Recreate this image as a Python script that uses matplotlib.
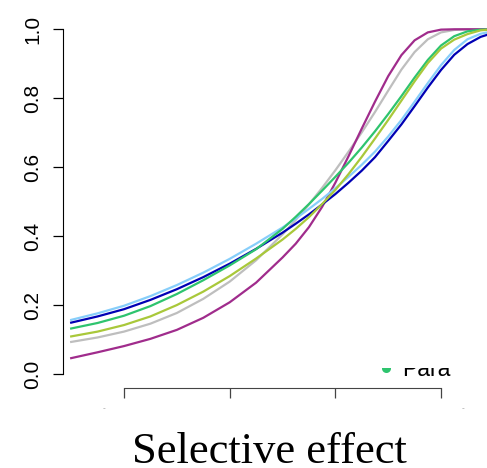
import matplotlib
matplotlib.use("Agg")
import matplotlib.pyplot as plt
from matplotlib.patches import Rectangle

plt.rcParams['font.family'] = 'Liberation Sans'

# selective effect grid (coarser on the flat left part)
effect = [0.5, 0.75, 1.0, 1.25, 1.5, 1.75, 2.0, 2.25, 2.5, 2.625, 2.75, 2.875,
          3.0, 3.125, 3.25, 3.375, 3.5, 3.625, 3.75, 3.875, 4.0, 4.125, 4.25,
          4.375, 4.5]

gray_curve = [0.093, 0.106, 0.123, 0.146, 0.177, 0.218, 0.268, 0.330, 0.405, 0.447,
              0.492, 0.540, 0.591, 0.645, 0.701, 0.760, 0.822, 0.883, 0.934, 0.971,
              0.991, 0.998, 1.0, 1.0, 1.0]
purple_curve = [0.046, 0.063, 0.081, 0.102, 0.128, 0.163, 0.208, 0.265, 0.338, 0.378,
                0.426, 0.485, 0.555, 0.632, 0.712, 0.790, 0.864, 0.925, 0.968, 0.991,
                0.999, 1.0, 1.0, 1.0, 1.0]
skyblue_curve = [0.157, 0.176, 0.198, 0.226, 0.258, 0.294, 0.334, 0.378, 0.425, 0.451,
                 0.479, 0.508, 0.539, 0.572, 0.607, 0.645, 0.689, 0.737, 0.790, 0.844,
                 0.896, 0.940, 0.971, 0.987, 0.995]
navy_curve = [0.149, 0.167, 0.188, 0.215, 0.246, 0.281, 0.320, 0.363, 0.410, 0.436,
              0.463, 0.492, 0.522, 0.555, 0.590, 0.629, 0.676, 0.724, 0.777, 0.831,
              0.882, 0.926, 0.957, 0.978, 0.990]
green_curve = [0.132, 0.148, 0.169, 0.197, 0.232, 0.272, 0.315, 0.362, 0.421, 0.456,
               0.493, 0.532, 0.572, 0.613, 0.657, 0.704, 0.754, 0.806, 0.860, 0.911,
               0.953, 0.980, 0.994, 0.999, 1.0]
olive_curve = [0.109, 0.123, 0.142, 0.167, 0.200, 0.239, 0.284, 0.335, 0.390, 0.421,
               0.455, 0.493, 0.534, 0.580, 0.630, 0.683, 0.737, 0.793, 0.849, 0.902,
               0.944, 0.970, 0.986, 0.997, 1.0]

y_ticks = [0.0, 0.2, 0.4, 0.6, 0.8, 1.0]
x_ticks = [1, 2, 3, 4]

fig = plt.figure(figsize=(4.87, 4.68), dpi=100)
ax = fig.add_axes([0.1294, 0.1714, 0.9715, 0.7955])
ax.set_xlim(0.4227, 4.9)
ax.set_ylim(-0.04, 1.04)

lw = 1.6
ax.plot(effect, gray_curve, color='#bebebe', lw=lw)
ax.plot(effect, purple_curve, color='#a02c8c', lw=lw)
ax.plot(effect, skyblue_curve, color='#87cefa', lw=lw)
ax.plot(effect, navy_curve, color='#0000b4', lw=lw)
ax.plot(effect, green_curve, color='#2ec46e', lw=lw)
ax.plot(effect, olive_curve, color='#a9c83a', lw=lw)

# legend entry sitting low in the plot region, top cut off
clip = Rectangle((0.4227, -0.04), 4.5, 0.0575, transform=ax.transData)
dot, = ax.plot([3.479], [0.017], 'o', color='#2ec46e', ms=6.5, mec='none')
dot.set_clip_path(clip)
lbl = ax.text(3.631, -0.006, 'Para', fontsize=16.5, va='baseline', ha='left')
lbl.set_clip_on(True)
lbl.set_clip_path(clip)

for side in ['top', 'right']:
    ax.spines[side].set_visible(False)
ax.spines['left'].set_bounds(0, 1)
ax.spines['bottom'].set_bounds(1, 4)
ax.spines['bottom'].set_color('#444444')

ax.set_yticks(y_ticks)
ax.set_yticklabels([f'{v:.1f}' for v in y_ticks], rotation=90, va='center')
ax.set_xticks(x_ticks)
ax.set_xticklabels([])
ax.tick_params(axis='y', length=7.2, width=0.9, pad=8, labelsize=15)
ax.tick_params(axis='x', length=7.2, width=0.9, color='#444444')

fig.text(104 / 487, 1 - 409 / 468, '-', fontsize=6, color='#999999', ha='center', va='center')
fig.text(463 / 487, 1 - 409 / 468, '-', fontsize=6, color='#999999', ha='center', va='center')

fig.text(269 / 487, 1 - 463 / 468, 'Selective effect', family='Liberation Serif',
         fontsize=32, ha='center', va='baseline')

fig.savefig('out.png', dpi=100)
